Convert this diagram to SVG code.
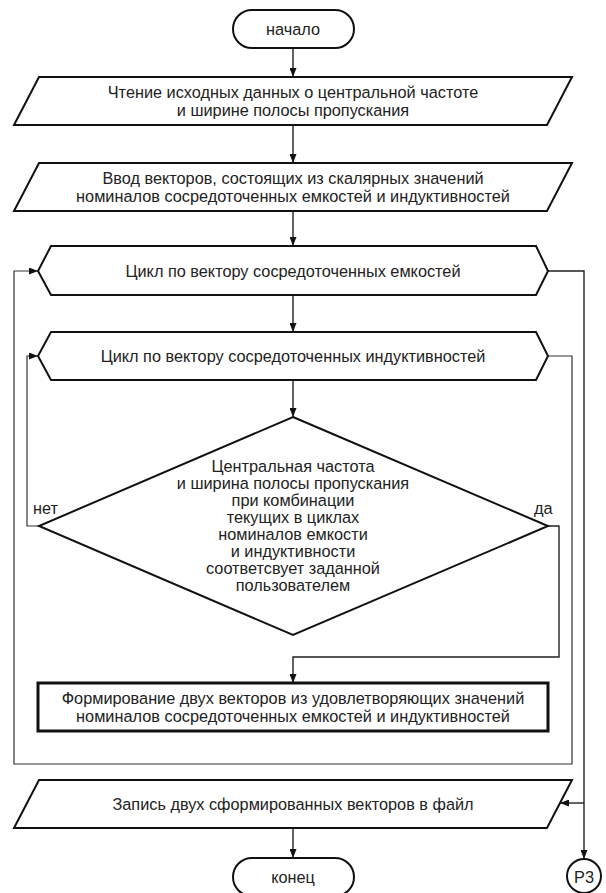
<svg xmlns="http://www.w3.org/2000/svg" width="606" height="893" viewBox="0 0 606 893">
<style>
.s{fill:#fff;stroke:#111;stroke-width:2;stroke-linejoin:miter}
.b{fill:#fff;stroke:#111;stroke-width:3}
.c{fill:none;stroke:#222;stroke-width:1.4}
.l{fill:none;stroke:#333;stroke-width:1.2}
text{font-family:"Liberation Sans",Arial,sans-serif;font-size:16.3px;fill:#222;text-anchor:middle;dominant-baseline:central}
.lab{text-anchor:start}
</style>
<defs>
<marker id="a" markerWidth="9" markerHeight="7" refX="9" refY="3.5" orient="auto" markerUnits="userSpaceOnUse">
<path d="M0,0 L9,3.5 L0,7 z" fill="#111"/>
</marker>
</defs>
<g id="connectors">
<path class="c" d="M293,48 V77" marker-end="url(#a)"/>
<path class="c" d="M293,125 V163" marker-end="url(#a)"/>
<path class="c" d="M293,211 V246" marker-end="url(#a)"/>
<path class="c" d="M293,295 V332" marker-end="url(#a)"/>
<path class="c" d="M293,380 V417" marker-end="url(#a)"/>
<path class="c" d="M548,526 H559 V657 H293 V683" marker-end="url(#a)"/>
<path class="l" d="M39,526 H27 V356 H38" marker-end="url(#a)"/>
<path class="l" d="M548,356 H572 V764 H14 V271 H38" marker-end="url(#a)"/>
<path class="c" d="M548,271 H584 V859" marker-end="url(#a)"/>
<path class="c" d="M584,803 H560" marker-end="url(#a)"/>
<path class="c" d="M293,828 V858" marker-end="url(#a)"/>
</g>
<g id="start">
<rect class="s" x="233" y="10" width="121" height="38" rx="19"/>
<text x="293" y="29">начало</text>
</g>
<g id="read">
<path class="s" d="M39,77 H572 L547,125 H14 Z"/>
<text x="293" y="92">Чтение исходных данных о центральной частоте</text>
<text x="293" y="110">и ширине полосы пропускания</text>
</g>
<g id="input">
<path class="s" d="M39,163 H572 L547,211 H14 Z"/>
<text x="293" y="178">Ввод векторов, состоящих из скалярных значений</text>
<text x="293" y="196">номиналов сосредоточенных емкостей и индуктивностей</text>
</g>
<g id="loop1">
<path class="s" d="M51,246 H536 L548,271 L536,295 H51 L38,271 Z"/>
<text x="293" y="271">Цикл по вектору сосредоточенных емкостей</text>
</g>
<g id="loop2">
<path class="s" d="M51,332 H536 L548,356 L536,380 H51 L38,356 Z"/>
<text x="293" y="356">Цикл по вектору сосредоточенных индуктивностей</text>
</g>
<g id="decision">
<path class="s" d="M293,417 L548,526 L293,635 L39,526 Z"/>
<text x="293" y="466">Центральная частота</text>
<text x="293" y="483">и ширина полосы пропускания</text>
<text x="293" y="500">при комбинации</text>
<text x="293" y="517">текущих в циклах</text>
<text x="293" y="534">номиналов емкости</text>
<text x="293" y="551">и индуктивности</text>
<text x="293" y="568">соответсвует заданной</text>
<text x="293" y="585">пользователем</text>
<text class="lab" x="33" y="508">нет</text>
<text class="lab" x="534" y="508">да</text>
</g>
<g id="form">
<rect class="b" x="38" y="683" width="510" height="48"/>
<text x="293" y="698">Формирование двух векторов из удовлетворяющих значений</text>
<text x="293" y="716">номиналов сосредоточенных емкостей и индуктивностей</text>
</g>
<g id="write">
<path class="s" d="M39,780 H572 L547,828 H14 Z"/>
<text x="293" y="804">Запись двух сформированных векторов в файл</text>
</g>
<g id="end">
<rect class="s" x="233" y="858" width="121" height="38" rx="19"/>
<text x="293" y="877">конец</text>
</g>
<g id="p3">
<circle class="s" cx="584" cy="876" r="17"/>
<text x="584" y="877">Р3</text>
</g>
</svg>
